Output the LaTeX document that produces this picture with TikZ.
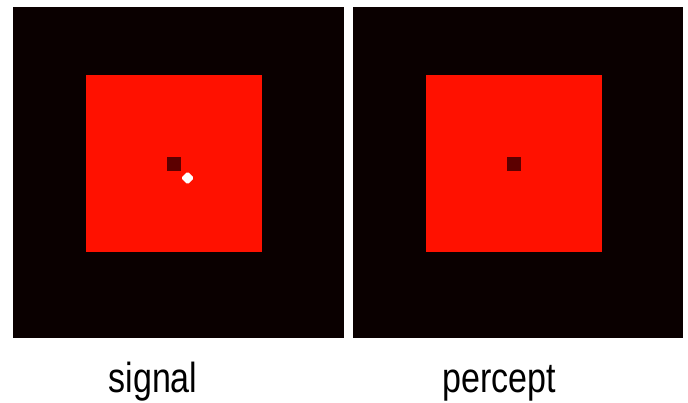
\documentclass[tikz,border=0pt]{standalone}
\usepackage{fontspec}
\setmainfont{Liberation Sans}
\definecolor{panelblack}{RGB}{10,0,0}
\definecolor{brightred}{RGB}{255,17,0}
\definecolor{darkspot}{RGB}{92,0,0}
\begin{document}
\begin{tikzpicture}[x=1pt,y=-1pt,
  panel/.style={fill=panelblack,draw=none},
  redsq/.style={fill=brightred,draw=none},
  spot/.style={fill=darkspot,draw=none},
  caption/.style={font=\fontsize{42}{42}\selectfont,xscale=0.81,anchor=base,inner sep=0pt}]
\useasboundingbox (0,0) rectangle (688,403);
\fill[white] (0,0) rectangle (688,403);
% left panel
\path[panel] (13,7) rectangle (344,338);
\path[redsq] (86,75) rectangle (262,252);
\path[spot] (167,157) rectangle (181,171);
\path[fill=white,rounded corners=1.5pt] (187.5,171.5) -- (194,178) -- (187.5,184.5) -- (181,178) -- cycle;
% right panel
\path[panel] (353,7) rectangle (683,338);
\path[redsq] (426,75) rectangle (602,252);
\path[spot] (507,157) rectangle (521,171);
% captions
\node[caption] (signal) at (153,392) {signal};
\node[caption] (percept) at (499.5,392) {percept};
\end{tikzpicture}
\end{document}
